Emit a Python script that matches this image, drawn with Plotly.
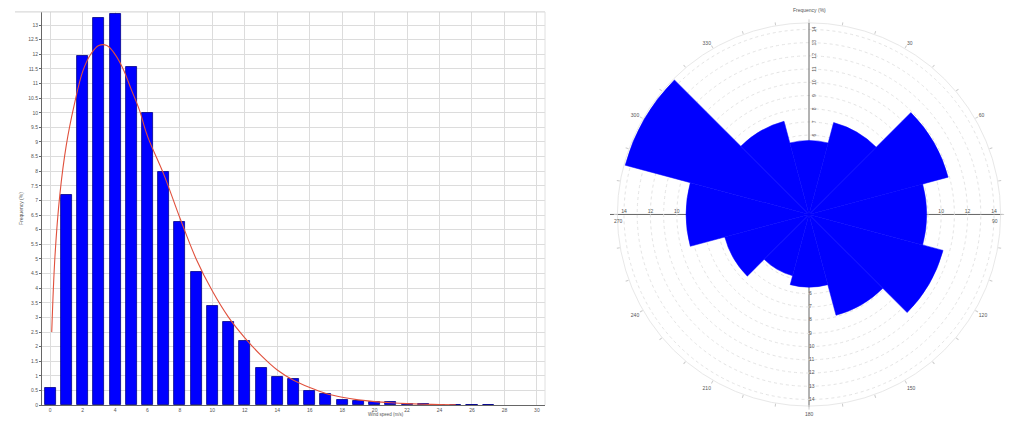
import plotly.graph_objects as go

# ---- wind speed histogram (1 m/s bins) ----
speed_bins = list(range(0, 28))
speed_freq = [0.58, 7.20, 11.95, 13.24, 13.37, 11.57, 10.01, 7.99, 6.26, 4.55,
              3.39, 2.85, 2.21, 1.27, 0.97, 0.88, 0.48, 0.37, 0.17, 0.14,
              0.10, 0.10, 0.05, 0.03, 0.02, 0.01, 0.01, 0.01]

# fitted distribution curve
fit_speed = [0.1, 0.3, 0.6, 1.0, 1.5, 2.0, 2.5, 3.0, 3.5, 4.0, 4.5, 5.0, 5.5, 6.0,
             7.0, 8.0, 9.0, 10.0, 11.0, 12.0, 13.0, 14.0, 15.0, 16.0, 17.0, 18.0,
             19.0, 20.0, 21.0, 22.0, 23.0, 24.0, 25.0]
fit_freq = [2.5, 5.1, 7.2, 8.9, 10.3, 11.4, 12.0, 12.3, 12.3, 12.0, 11.5, 10.8, 10.1, 9.2,
            7.9, 6.4, 5.0, 3.9, 3.0, 2.3, 1.7, 1.2, 0.85, 0.6, 0.4, 0.27,
            0.18, 0.12, 0.08, 0.05, 0.03, 0.02, 0.01]

speed_ticks = list(range(0, 31, 2))
speed_ticktext = [str(v) for v in speed_ticks]

# ---- wind rose (12 sectors of 30 degrees) ----
dir_centers = [0, 30, 60, 90, 120, 150, 180, 210, 240, 270, 300, 330]
dir_freq = [5.6, 7.2, 10.9, 8.9, 10.5, 7.9, 5.5, 4.8, 6.6, 9.3, 14.4, 7.3]
rose_max = 14.5
ring_vals = list(range(1, 15))
south_label_vals = [6, 7, 8, 9, 10, 11, 12, 13, 14]
east_west_label_vals = [10, 12, 14]
angle_ticks = list(range(0, 360, 10))
angle_ticktext = [str(a) if (a % 30 == 0 and a % 90 != 0) else "" for a in angle_ticks]

W, H = 1009, 421
FONT = "Liberation Sans"
TXT = "#555555"
GRID = "#dcdcdc"
AXIS = "#666666"

# rose placement in pixels
CX, CY, RAD = 809, 216, 193

def px(x):
    return x / W

def py(y):
    return (H - y) / H

fig = go.Figure()

fig.add_trace(go.Bar(
    x=speed_bins, y=speed_freq, width=0.68,
    marker=dict(color="#0000ff", line=dict(color="#00008b", width=0.8)),
    xaxis="x", yaxis="y", showlegend=False,
))
fig.add_trace(go.Scatter(
    x=fit_speed, y=fit_freq, mode="lines", line=dict(color="#e0503c", width=1.1, shape="spline"),
    xaxis="x", yaxis="y", showlegend=False,
))

fig.add_trace(go.Barpolar(
    r=dir_freq, theta=dir_centers, width=[30] * len(dir_centers),
    marker=dict(color="#0000ff", line=dict(color="#0000ff", width=0.5)),
    showlegend=False,
))

# scale labels along the south and east/west arms of the rose
fig.add_trace(go.Scatterpolar(
    r=south_label_vals, theta=[180] * len(south_label_vals), mode="text",
    text=[str(v) for v in south_label_vals], textposition="middle right",
    textfont=dict(size=5, color=TXT, family=FONT), showlegend=False, hoverinfo="skip",
))
for th in (90, 270):
    fig.add_trace(go.Scatterpolar(
        r=east_west_label_vals, theta=[th] * len(east_west_label_vals), mode="text",
        text=[str(v) for v in east_west_label_vals], textposition="top center",
        textfont=dict(size=5, color=TXT, family=FONT), showlegend=False, hoverinfo="skip",
    ))

fig.update_layout(
    width=W, height=H,
    margin=dict(l=0, r=0, t=0, b=0),
    paper_bgcolor="white", plot_bgcolor="white",
    font=dict(family=FONT, size=5, color=TXT),
    bargap=0,
    xaxis=dict(
        domain=[px(42), px(545)], range=[-0.5, 30.5],
        tickvals=speed_ticks, ticktext=speed_ticktext,
        showgrid=True, gridcolor=GRID, gridwidth=1,
        showline=True, linecolor=AXIS, linewidth=1,
        ticks="", tickfont=dict(size=5, color=TXT), zeroline=False,
    ),
    yaxis=dict(
        domain=[py(408), py(12)], range=[0, 13.45],
        dtick=0.5, tick0=0,
        showgrid=True, gridcolor=GRID, gridwidth=1,
        showline=True, linecolor=AXIS, linewidth=1,
        ticks="outside", ticklen=2, tickcolor=AXIS,
        tickfont=dict(size=5, color=TXT), zeroline=False,
        title=dict(text="Frequency (%)", font=dict(size=5, color=TXT), standoff=4),
    ),
    polar=dict(
        domain=dict(x=[px(CX - RAD), px(CX + RAD)], y=[py(CY + RAD), py(CY - RAD)]),
        bgcolor="rgba(0,0,0,0)",
        radialaxis=dict(
            range=[0, rose_max], angle=90, tickangle=0,
            tickvals=ring_vals, ticktext=[str(v) for v in ring_vals],
            showline=True, linecolor=AXIS, linewidth=1,
            gridcolor="#e4e4e4", griddash="dot", gridwidth=1,
            tickfont=dict(size=5, color=TXT), ticks="", layer="below traces",
        ),
        angularaxis=dict(
            rotation=90, direction="clockwise",
            tickvals=angle_ticks, ticktext=angle_ticktext,
            ticks="outside", ticklen=3, tickcolor="#cccccc",
            showline=True, linecolor="#e8e8e8", linewidth=1,
            showgrid=False,
            tickfont=dict(size=5, color=TXT), layer="below traces",
        ),
    ),
    annotations=[
        dict(text="Wind speed (m/s)", x=px(386), y=0, xref="paper", yref="paper",
             showarrow=False, font=dict(size=4.5, color=TXT), xanchor="center", yanchor="bottom",
             borderpad=0),
        dict(text="Frequency (%)", x=px(CX), y=py(10), xref="paper", yref="paper",
             showarrow=False, font=dict(size=5, color=TXT), xanchor="center", yanchor="middle"),
        dict(text="90", x=px(995), y=py(223), xref="paper", yref="paper",
             showarrow=False, font=dict(size=5, color=TXT), xanchor="center", yanchor="middle"),
        dict(text="270", x=px(618), y=py(223), xref="paper", yref="paper",
             showarrow=False, font=dict(size=5, color=TXT), xanchor="center", yanchor="middle"),
        dict(text="180", x=px(CX), y=py(417), xref="paper", yref="paper",
             showarrow=False, font=dict(size=5, color=TXT), xanchor="center", yanchor="middle"),
    ],
    shapes=[
        # frame of the histogram panel
        dict(type="line", xref="paper", yref="paper", x0=px(15), x1=px(545),
             y0=py(12), y1=py(12), line=dict(color="#d0d0d0", width=1)),
        dict(type="line", xref="paper", yref="paper", x0=px(545), x1=px(545),
             y0=py(408), y1=py(12), line=dict(color="#e0e0e0", width=1)),
        # cross axes of the rose, kept under the sectors
        dict(type="line", xref="paper", yref="paper", layer="below",
             x0=px(CX - RAD - 6), x1=px(CX + RAD + 1), y0=py(CY), y1=py(CY),
             line=dict(color=AXIS, width=1)),
        dict(type="line", xref="paper", yref="paper", layer="below",
             x0=px(CX), x1=px(CX), y0=py(CY), y1=py(CY + RAD + 1),
             line=dict(color=AXIS, width=1)),
    ],
)

fig.write_html("out.html")
